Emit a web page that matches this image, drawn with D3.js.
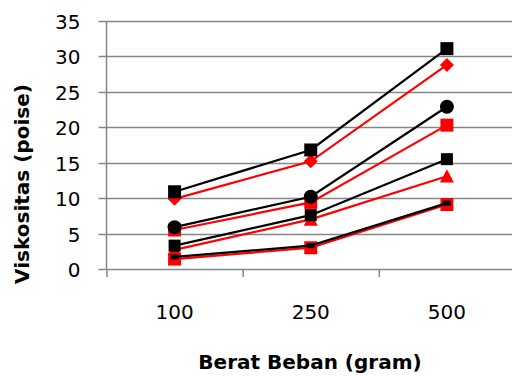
<!DOCTYPE html>
<html><head><meta charset="utf-8">
<script src="https://cdn.jsdelivr.net/npm/d3@7"></script>
<style>body{margin:0;background:#fff}svg{display:block}</style>
</head><body><svg id="c" width="512" height="376"></svg>
<script>
const categories = ["100", "250", "500"];
const yTicks = [0, 5, 10, 15, 20, 25, 30, 35];
const s1BlackSquare = [10.9, 16.8, 31.1];
const s2RedDiamond = [9.9, 15.2, 28.8];
const s3BlackCircle = [5.9, 10.2, 22.9];
const s4RedSquare = [5.5, 9.4, 20.3];
const s5BlackSquare = [3.3, 7.6, 15.5];
const s6RedTriangle = [2.7, 7.0, 13.1];
const s7BlackDash = [1.7, 3.3, 9.3];
const s8RedSquare = [1.4, 3.0, 9.1];
const xTitle = "Berat Beban (gram)";
const yTitle = "Viskositas (poise)";

const series = [
  {v: s8RedSquare, color: "#ff0000", m: "square", r: 6.5},
  {v: s6RedTriangle, color: "#ff0000", m: "triangle", r: 7},
  {v: s4RedSquare, color: "#ff0000", m: "square", r: 6.5},
  {v: s2RedDiamond, color: "#ff0000", m: "diamond", r: 7},
  {v: s7BlackDash, color: "#000000", m: "dash", r: 4},
  {v: s5BlackSquare, color: "#000000", m: "square", r: 6},
  {v: s3BlackCircle, color: "#000000", m: "circle", r: 7},
  {v: s1BlackSquare, color: "#000000", m: "square", r: 6.5}
];

const L = 106.5, R = 515, T = 21, B = 269;
const svg = d3.select("#c");
const font = "DejaVu Sans, sans-serif";
const x = d3.scaleBand().domain(categories).range([L, R]).paddingInner(0).paddingOuter(0);
const y = d3.scaleLinear().domain([0, 35]).range([B, T]);
const grid = "#868686";

// gridlines
svg.append("g").selectAll("line").data(yTicks.filter(d => d > 0)).join("line")
  .attr("x1", L).attr("x2", R).attr("y1", d => Math.round(y(d)) + 0.5).attr("y2", d => Math.round(y(d)) + 0.5)
  .attr("stroke", grid).attr("stroke-width", 1.5);

// y axis
const yAxis = svg.append("g").attr("transform", `translate(${L},0)`)
  .call(d3.axisLeft(y).tickValues(yTicks).tickSize(8).tickPadding(18));
yAxis.select(".domain").attr("stroke", grid).attr("stroke-width", 1.5).attr("d", `M0,${T}V${B}`);
yAxis.selectAll(".tick line").attr("stroke", grid).attr("stroke-width", 1.5);
yAxis.selectAll(".tick").attr("transform", d => `translate(0,${Math.round(y(d)) + 0.5})`);
yAxis.selectAll(".tick text").attr("font-family", font).attr("font-size", 20).attr("fill", "#000").attr("dy", "0.36em");

// x axis
const xAxis = svg.append("g").attr("transform", `translate(0,${B + 0.5})`)
  .call(d3.axisBottom(x).tickSize(0).tickPadding(35));
xAxis.select(".domain").attr("stroke", grid).attr("stroke-width", 1.5).attr("d", `M${L},0H${R}`);
xAxis.selectAll(".tick text").attr("font-family", font).attr("font-size", 20).attr("fill", "#000");
// category boundary ticks
svg.append("g").selectAll("line").data(categories).join("line")
  .attr("x1", d => x(d) + 0.5).attr("x2", d => x(d) + 0.5)
  .attr("y1", B).attr("y2", B + 8).attr("stroke", grid).attr("stroke-width", 1.5);

// titles
svg.append("text").attr("x", 310).attr("y", 369).attr("text-anchor", "middle")
  .attr("font-family", font).attr("font-weight", "bold").attr("font-size", 20).text(xTitle);
svg.append("text").attr("transform", "translate(29,184) rotate(-90)").attr("text-anchor", "middle")
  .attr("font-family", font).attr("font-weight", "bold").attr("font-size", 20).text(yTitle);

const cx = d => x(d) + x.bandwidth() / 2;
const line = d3.line().x((d, i) => cx(categories[i])).y(d => y(d));

function markerPath(m, r) {
  const p = d3.path();
  if (m === "square") { p.rect(-r, -r, 2 * r, 2 * r); }
  else if (m === "diamond") { p.moveTo(0, -r); p.lineTo(r, 0); p.lineTo(0, r); p.lineTo(-r, 0); p.closePath(); }
  else if (m === "triangle") { p.moveTo(0, -r); p.lineTo(r, r * 0.9); p.lineTo(-r, r * 0.9); p.closePath(); }
  else if (m === "circle") { p.arc(0, 0, r, 0, 2 * Math.PI); }
  else if (m === "dash") { p.rect(-r, -2.5, 2 * r, 5); }
  return p.toString();
}

series.forEach(s => {
  const g = svg.append("g");
  g.append("path").attr("d", line(s.v)).attr("fill", "none").attr("stroke", s.color).attr("stroke-width", 2.2);
  g.selectAll("path.m").data(s.v).join("path").attr("class", "m")
    .attr("transform", (d, i) => `translate(${cx(categories[i])},${y(d)})`)
    .attr("d", markerPath(s.m, s.r)).attr("fill", s.color);
});
</script></body></html>
